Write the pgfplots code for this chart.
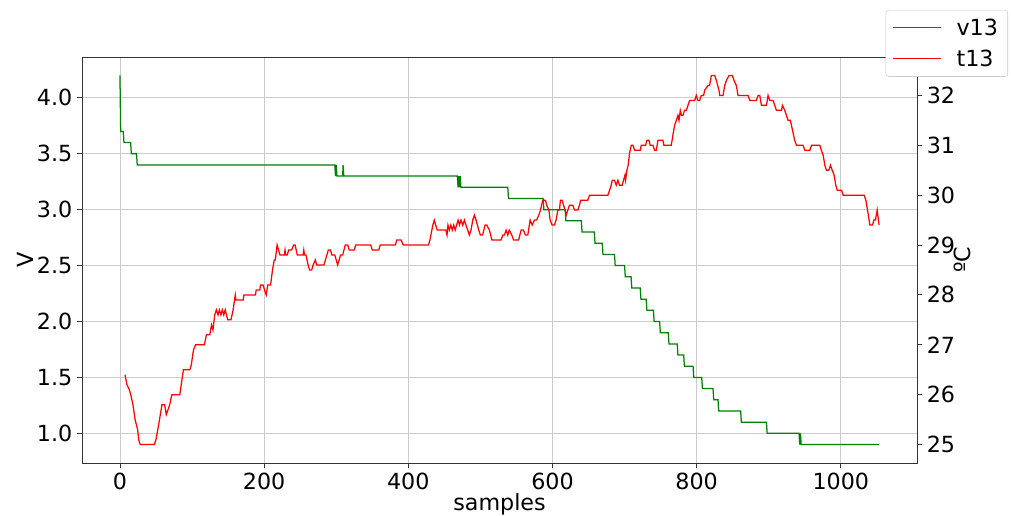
\documentclass[border=0pt]{standalone}
\usepackage{fontspec}
\setmainfont{DejaVu Sans}
\usepackage{pgfplots}
\pgfplotsset{compat=1.18}
\definecolor{mplgreen}{RGB}{0,128,0}
\definecolor{mplred}{RGB}{255,0,0}
\newcommand{\bigf}{\fontsize{16}{19}\selectfont}
\begin{document}
\begin{tikzpicture}
\path[use as bounding box] (-59.04pt,-38.16pt) rectangle (668.88pt,333.36pt);
\begin{axis}[
  scale only axis, width=601.2pt, height=292.32pt,
  xmin=-52.65, xmax=1105.65, ymin=0.735, ymax=4.365,
  xtick={0,200,400,600,800,1000},
  xticklabel style={/pgf/number format/1000 sep={}},
  ytick={1.0,1.5,2.0,2.5,3.0,3.5,4.0},
  yticklabel style={/pgf/number format/.cd,fixed,fixed zerofill,precision=1},
  /pgf/number format/assume math mode=true,
  xtick pos=bottom, ytick pos=left, tick align=outside,
  major tick length=3.5pt,
  every tick/.style={black!80, line width=0.6pt},
  axis line style={black!80, line width=0.6pt},
  ticklabel style={font=\bigf},
  grid=major, grid style={gray!40, line width=0.6pt},
  xlabel={samples}, ylabel={V},
  label style={font=\bigf},
  xlabel style={at={(axis description cs:0.5,-0.103)}, anchor=center},
  ylabel style={at={(axis description cs:-0.0683,0.5)}, anchor=center},
]
\addplot[mplgreen, line width=0.9pt] coordinates {
(0,4.2)(1,3.7)(4.6,3.7)(5.6,3.6)(14.8,3.6)(15.8,3.5)(23,3.5)(24,3.4)(298,3.4)(299,3.3)(300,3.4)(301,3.3)(309,3.3)(309.5,3.4)(310.5,3.3)(468,3.3)(469,3.2)(470,3.3)(471,3.2)(472,3.3)(473,3.2)(538,3.2)(539,3.1)(587,3.1)(588,3.0)(617.6,3.0)(618.6,2.9)(640,2.9)(641,2.8)(658,2.8)(659,2.7)(669,2.7)(670,2.6)(686,2.6)(687,2.5)(700,2.5)(701,2.4)(709,2.4)(710,2.3)(721.7,2.3)(722.7,2.2)(730,2.2)(731,2.1)(740,2.1)(741,2.0)(748.6,2.0)(749.6,1.9)(760.6,1.9)(761.6,1.8)(773,1.8)(774,1.7)(782,1.7)(783,1.6)(795,1.6)(796,1.5)(807,1.5)(808,1.4)(822.7,1.4)(823.7,1.3)(829.6,1.3)(830.6,1.2)(861,1.2)(862,1.1)(896.8,1.1)(897.8,1.0)(942,1.0)(943,0.9)(944,1.0)(945,0.9)(1053,0.9)
};
\end{axis}
\begin{axis}[
  scale only axis, width=601.2pt, height=292.32pt,
  xmin=-52.65, xmax=1105.65, ymin=24.63, ymax=32.77,
  axis x line=none, axis y line*=right,
  ytick={25,26,27,28,29,30,31,32},
  /pgf/number format/assume math mode=true,
  ytick pos=right, tick align=outside,
  major tick length=3.5pt,
  every tick/.style={black!80, line width=0.6pt},
  axis line style={black!80, line width=0.6pt, -},
  ticklabel style={font=\bigf},
  ylabel={ºC},
  label style={font=\bigf},
  ylabel style={at={(axis description cs:1.0539,0.5)}, anchor=center, rotate=0},
  legend cell align=left,
  legend image code/.code={\draw[#1] (0pt,0pt) -- (34pt,0pt);},
  legend style={at={(axis description cs:1.109,1.116)}, anchor=north east,
    font=\bigf, draw=black!20, rounded corners=2pt, fill=white,
    inner xsep=5pt, inner ysep=4pt, row sep=5pt,
    /tikz/every odd column/.append style={column sep=9pt}},
]
\addlegendimage{mplgreen, line width=0.9pt}
\addlegendentry{v13}
\addplot[mplred, line width=0.9pt] coordinates {
(7,26.4)(9.7,26.2)(13,26.1)(15,26.0)(18,25.8)(21,25.5)(24.5,25.3)(26,25.1)(28,25.0)(47.7,25.0)(50,25.1)(53.7,25.4)(56,25.6)(58.3,25.8)(62,25.8)(64.3,25.6)(66.7,25.7)(69,25.8)(72,26.0)(83,26.0)(85,26.2)(88,26.5)(97,26.5)(99,26.6)(102,26.9)(105,27.0)(117,27.0)(120,27.2)(124.6,27.2)(127,27.4)(129,27.3)(131.5,27.6)(133.8,27.7)(136,27.6)(138,27.7)(140,27.6)(142,27.7)(144,27.6)(146,27.7)(149.5,27.5)(154,27.5)(157,27.7)(160,28.0)(161,27.9)(171,27.9)(172,28.0)(188,28.0)(189,28.1)(194,28.1)(195,28.2)(198.6,28.2)(200.5,28.1)(203,28.0)(205,28.2)(209,28.2)(211.6,28.5)(214,28.7)(215.5,28.7)(218,29.0)(220,28.9)(222,28.8)(228,28.8)(229,28.9)(230,28.8)(232,28.8)(234,28.9)(238,28.9)(241,29.0)(243,29.0)(246,28.8)(254,28.8)(255,28.9)(256,28.8)(258,28.8)(261,28.6)(263,28.5)(266,28.5)(268,28.6)(271,28.7)(273,28.6)(283,28.6)(285,28.7)(287,28.8)(289,28.9)(292,28.9)(294,28.8)(298,28.8)(302,28.6)(304,28.7)(306,28.8)(309,28.8)(312.5,29.0)(316,29.0)(318,28.9)(325,28.9)(327,29.0)(348,29.0)(350,28.9)(359,28.9)(361,29.0)(382,29.0)(384,29.1)(390,29.1)(393,29.0)(428,29.0)(430,29.1)(434,29.4)(436,29.5)(438,29.4)(440,29.3)(452,29.3)(453.7,29.2)(455,29.4)(457,29.3)(459,29.4)(461,29.3)(463,29.4)(465,29.3)(467,29.4)(469,29.5)(471,29.4)(473,29.5)(475.5,29.4)(477.8,29.5)(480,29.4)(482.4,29.3)(484.7,29.2)(487,29.3)(489.4,29.5)(491.7,29.6)(494,29.5)(497.7,29.3)(500,29.2)(503,29.2)(506.5,29.4)(508.8,29.4)(512.5,29.3)(516,29.1)(528.7,29.1)(531,29.2)(533.3,29.2)(535.6,29.3)(538,29.2)(540,29.3)(543.5,29.2)(546,29.1)(553,29.1)(556.5,29.3)(559.7,29.3)(562.5,29.2)(565.7,29.2)(569,29.5)(571.8,29.4)(575,29.5)(578,29.5)(581,29.6)(583.3,29.7)(586.5,29.9)(590.3,29.9)(592,29.8)(595,29.7)(596.8,29.5)(599.5,29.4)(602.8,29.4)(605,29.5)(607.4,29.7)(609.7,29.7)(611,29.9)(613.4,29.9)(615.3,29.8)(617.6,29.7)(619,29.6)(621.3,29.7)(623.6,29.8)(628.2,29.8)(630.6,29.7)(635.2,29.7)(637.5,29.8)(639,29.9)(649,29.9)(651.4,30.0)(676.9,30.0)(679.2,30.1)(681.5,30.2)(682.9,30.3)(686,30.3)(688.4,30.2)(690.7,30.3)(693,30.2)(696.7,30.2)(698.6,30.3)(700.5,30.4)(701.4,30.3)(703.2,30.5)(705,30.6)(707,30.85)(709.3,31.0)(711.6,31.0)(713.9,30.9)(721.8,30.9)(723.1,31.0)(729.2,31.0)(731,31.1)(733.8,31.1)(735.6,31.0)(739.4,31.0)(741.7,30.9)(744,30.9)(746.3,31.1)(753.2,31.1)(754.6,31.0)(764.8,31.0)(767,31.2)(769.4,31.4)(771.8,31.5)(774,31.6)(775.5,31.5)(777.3,31.7)(779,31.6)(781,31.6)(783.3,31.7)(785.6,31.7)(788,31.8)(790.3,31.9)(797.2,31.9)(799.5,32.0)(801.8,31.9)(804.2,31.9)(806.5,32.0)(809.7,32.0)(811,32.1)(815.7,32.2)(818,32.2)(820.4,32.4)(825,32.4)(827.3,32.3)(831,32.1)(832,32.0)(836.6,32.0)(838.9,32.2)(841.2,32.3)(845,32.4)(849.5,32.4)(851.8,32.3)(855,32.2)(857.4,32.0)(871.3,32.0)(873.6,31.9)(882.9,31.9)(885.2,32.0)(887.5,32.0)(889.8,31.8)(896.8,31.8)(899,32.0)(901.4,31.9)(906,31.9)(908.3,31.8)(910.6,31.7)(917.6,31.7)(919,31.8)(922.2,31.7)(924.5,31.6)(926.8,31.5)(930,31.5)(931.5,31.4)(936,31.1)(938.4,31.0)(947.6,31.0)(950,30.9)(957,30.9)(959.3,31.0)(970.8,31.0)(973,30.9)(975.5,30.8)(977.8,30.6)(980,30.5)(983.3,30.5)(985.6,30.6)(988,30.5)(990.7,30.4)(993,30.2)(995,30.1)(1001,30.1)(1003.2,30.0)(1032.4,30.0)(1034.7,29.9)(1037,29.7)(1040.3,29.4)(1044,29.4)(1045.8,29.5)(1048,29.5)(1050.4,29.7)(1053,29.4)
};
\addlegendentry{t13}
\end{axis}
\end{tikzpicture}
\end{document}
